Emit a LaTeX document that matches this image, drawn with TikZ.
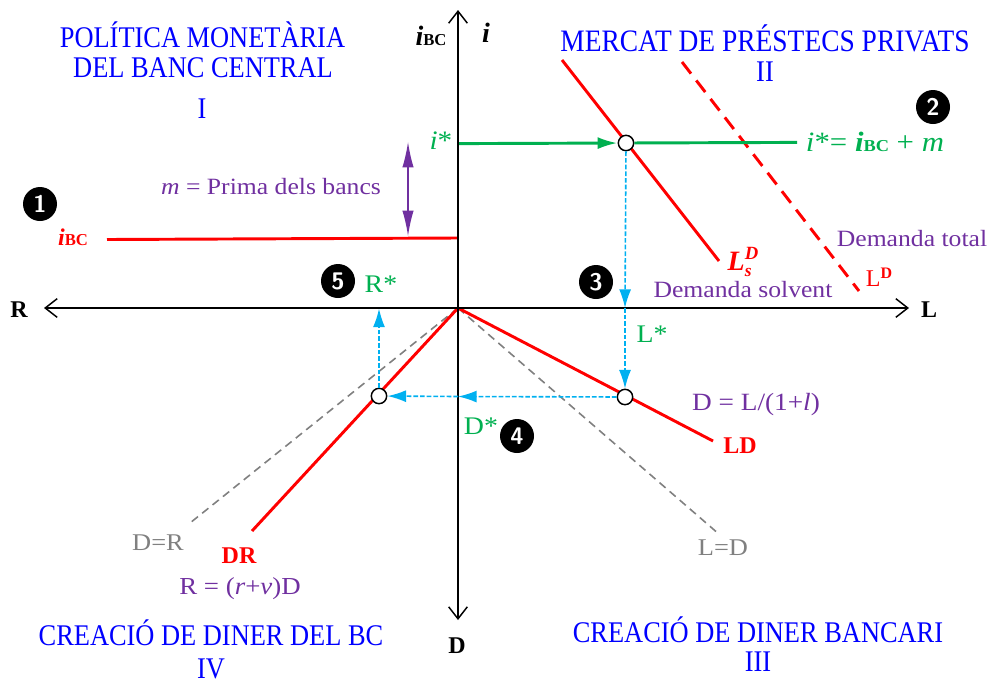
\documentclass[tikz,border=0pt]{standalone}
\usepackage{fontspec}
\setmainfont{Liberation Serif}
\newfontfamily\narrowfont[FakeStretch=0.88]{Liberation Serif}
\newfontfamily\widefont[FakeStretch=1.1]{Liberation Serif}
\usetikzlibrary{arrows.meta}
\definecolor{cblue}{RGB}{0,0,255}
\definecolor{cgreen}{RGB}{0,176,80}
\definecolor{cpurple}{RGB}{112,48,160}
\definecolor{ccyan}{RGB}{0,176,240}
\definecolor{cgray}{RGB}{128,128,128}
\definecolor{cred}{RGB}{255,0,0}
\newcommand{\fs}[1]{\fontsize{#1}{#1}\selectfont}
\newcommand{\ibc}{\textbf{\textit{i}}{\fs{12.5}\textbf{BC}}}
\tikzset{
  x=0.75pt,y=-0.75pt,
  axis/.style={draw=black,line width=1.1pt,-{Straight Barb[length=9pt,width=14pt,line width=1.1pt]}},
  redline/.style={draw=cred,line width=2.2pt},
  greenline/.style={draw=cgreen,line width=2.2pt},
  grayline/.style={draw=cgray,line width=1.2pt,dash pattern=on 6pt off 4pt},
  cyanline/.style={draw=ccyan,line width=1.2pt,dash pattern=on 3.5pt off 1.5pt},
  cyantip/.style={-{Latex[length=14pt,width=9pt,color=ccyan]}},
  title/.style={text=cblue,font=\narrowfont\fs{22.5},align=center,inner sep=0pt},
  purplelabel/.style={text=cpurple,font=\widefont\fs{17.5},inner sep=0pt},
  greenlabel/.style={text=cgreen,font=\widefont\fs{19},inner sep=0pt},
  graylabel/.style={text=cgray,font=\widefont\fs{18},inner sep=0pt},
  redlabel/.style={text=cred,font=\fs{18}\bfseries,inner sep=0pt},
  axlabel/.style={text=black,font=\fs{18}\bfseries,inner sep=0pt},
  badge/.style={circle,fill=black,text=white,font=\fs{18}\bfseries\sffamily,inner sep=0pt,minimum size=25.5pt},
  point/.style={circle,draw=black,fill=white,line width=1.1pt,inner sep=0pt,minimum size=11.5pt},
}
\begin{document}
\begin{tikzpicture}
\useasboundingbox (0,0) rectangle (987,686);
% coordinates
\coordinate (O) at (458,308);
\coordinate (top) at (458,10);
\coordinate (bot) at (458,620);
\coordinate (left) at (44,308);
\coordinate (right) at (909,308);
\coordinate (ibcL) at (107,239.5);
\coordinate (ibcR) at (457,238);
\coordinate (greenL) at (459,143.6);
\coordinate (greenR) at (797,142.4);
\coordinate (lsT) at (562,60);
\coordinate (lsB) at (719,261);
\coordinate (ldT) at (682,62);
\coordinate (ldB) at (859,291);
\coordinate (ldEnd) at (713,441);
\coordinate (drEnd) at (252,531);
\coordinate (grayL) at (190,523);
\coordinate (grayR) at (720,535);
\coordinate (mT) at (408,142);
\coordinate (mB) at (408,236);
\coordinate (axL) at (625,308);
\coordinate (axD) at (458,396.5);
\coordinate (axR) at (379,308.5);
% gray guides
\draw[grayline] (O) -- (grayL);
\draw[grayline] (O) -- (grayR);
% red curves
\draw[redline] (ibcL) -- (ibcR);
\draw[redline] (lsT) -- (lsB);
\draw[redline,dash pattern=on 11pt off 6.5pt] (ldT) -- (ldB);
\draw[redline] (O) -- (ldEnd);
\draw[redline] (O) -- (drEnd);
% axes
\draw[axis] (O) -- (top);
\draw[axis] (O) -- (bot);
\draw[axis] (O) -- (left);
\draw[axis] (O) -- (right);
% points
\node[point] (A) at (626,143) {};
\node[point] (B) at (625,397) {};
\node[point] (C) at (379,396) {};
% green
\draw[greenline,-{Latex[length=15pt,width=9pt,color=cgreen]}] (greenL) -- (A);
\draw[greenline] (A) -- (greenR);
% purple
\draw[draw=cpurple,line width=1pt,{Latex[length=19pt,width=8.5pt,color=cpurple]}-{Latex[length=19pt,width=8.5pt,color=cpurple]}] (mT) -- (mB);
% cyan
\draw[cyanline,cyantip] (A) -- (axL);
\draw[cyanline,cyantip] (axL) -- (B);
\draw[cyanline,cyantip] (B) -- (axD);
\draw[cyanline,cyantip] (axD) -- (C);
\draw[cyanline,cyantip] (C) -- (axR);
% titles
\node[title] (t1a) at (202.5,35) {POLÍTICA MONETÀRIA};
\node[title] (t1b) at (203,68) {DEL BANC CENTRAL};
\node[title] (t1n) at (202,109) {I};
\node[title,font=\narrowfont\fs{23.4}] (t2) at (765,38) {MERCAT DE PRÉSTECS PRIVATS};
\node[title] (t2n) at (765,72) {II};
\node[title] (t3) at (758,630) {CREACIÓ DE DINER BANCARI};
\node[title] (t3n) at (758,662) {III};
\node[title] (t4) at (211,633) {CREACIÓ DE DINER DEL BC};
\node[title] (t4n) at (211,669) {IV};
% axis labels
\node[axlabel] (lR) at (19,310) {R};
\node[axlabel] (lL) at (929,310) {L};
\node[axlabel] (lD) at (457,646) {D};
\node[axlabel,font=\fs{21}] (li) at (486,33) {\textbf{\textit{i}}};
\node[axlabel,font=\fs{21}] (libc) at (431,36) {\ibc};
% red labels
\node[redlabel] (ribc) at (73,237) {\ibc};
\node[redlabel,font=\fs{21}] (rls) at (743,262) {\textbf{\textit{L}}\rlap{\raisebox{-4.5pt}{\fs{13}\textbf{\textit{s}}}}\raisebox{8pt}{\fs{14}\textbf{\textit{D}}}};
\node[redlabel,font=\fs{18}\mdseries] (rld) at (879,277) {L\raisebox{6pt}{\fs{12}\bfseries D}};
\node[redlabel] (rLD) at (740,446) {LD};
\node[redlabel] (rDR) at (239,556) {DR};
% purple labels
\node[purplelabel] (pm) at (271,187) {\textit{m} = Prima dels bancs};
\node[purplelabel] (pdt) at (912,239) {Demanda total};
\node[purplelabel] (pds) at (743,290) {Demanda solvent};
\node[purplelabel,font=\widefont\fs{18.6}] (pdl) at (756,405) {D = L/(1+\textit{l})};
\node[purplelabel,font=\widefont\fs{18.3}] (prr) at (240,589) {R = (\textit{r}+\textit{v})D};
% gray labels
\node[graylabel] (gdr) at (158,543) {D=R};
\node[graylabel] (gld) at (723,548) {L=D};
% green labels
\node[greenlabel,font=\widefont\fs{20}] (gi) at (441,141) {\textit{i}*};
\node[greenlabel,font=\widefont\fs{21}] (geq) at (875,142) {\textit{i}*= \ibc{} + \textit{m}};
\node[greenlabel] (gR) at (381,284) {R*};
\node[greenlabel] (gL) at (652,334) {L*};
\node[greenlabel] (gD) at (481,426) {D*};
% badges
\node[badge] (b1) at (40,204) {1};
\node[badge] (b2) at (933,107) {2};
\node[badge] (b3) at (596,282) {3};
\node[badge] (b4) at (517,436) {4};
\node[badge] (b5) at (338,281) {5};
\end{tikzpicture}
\end{document}
